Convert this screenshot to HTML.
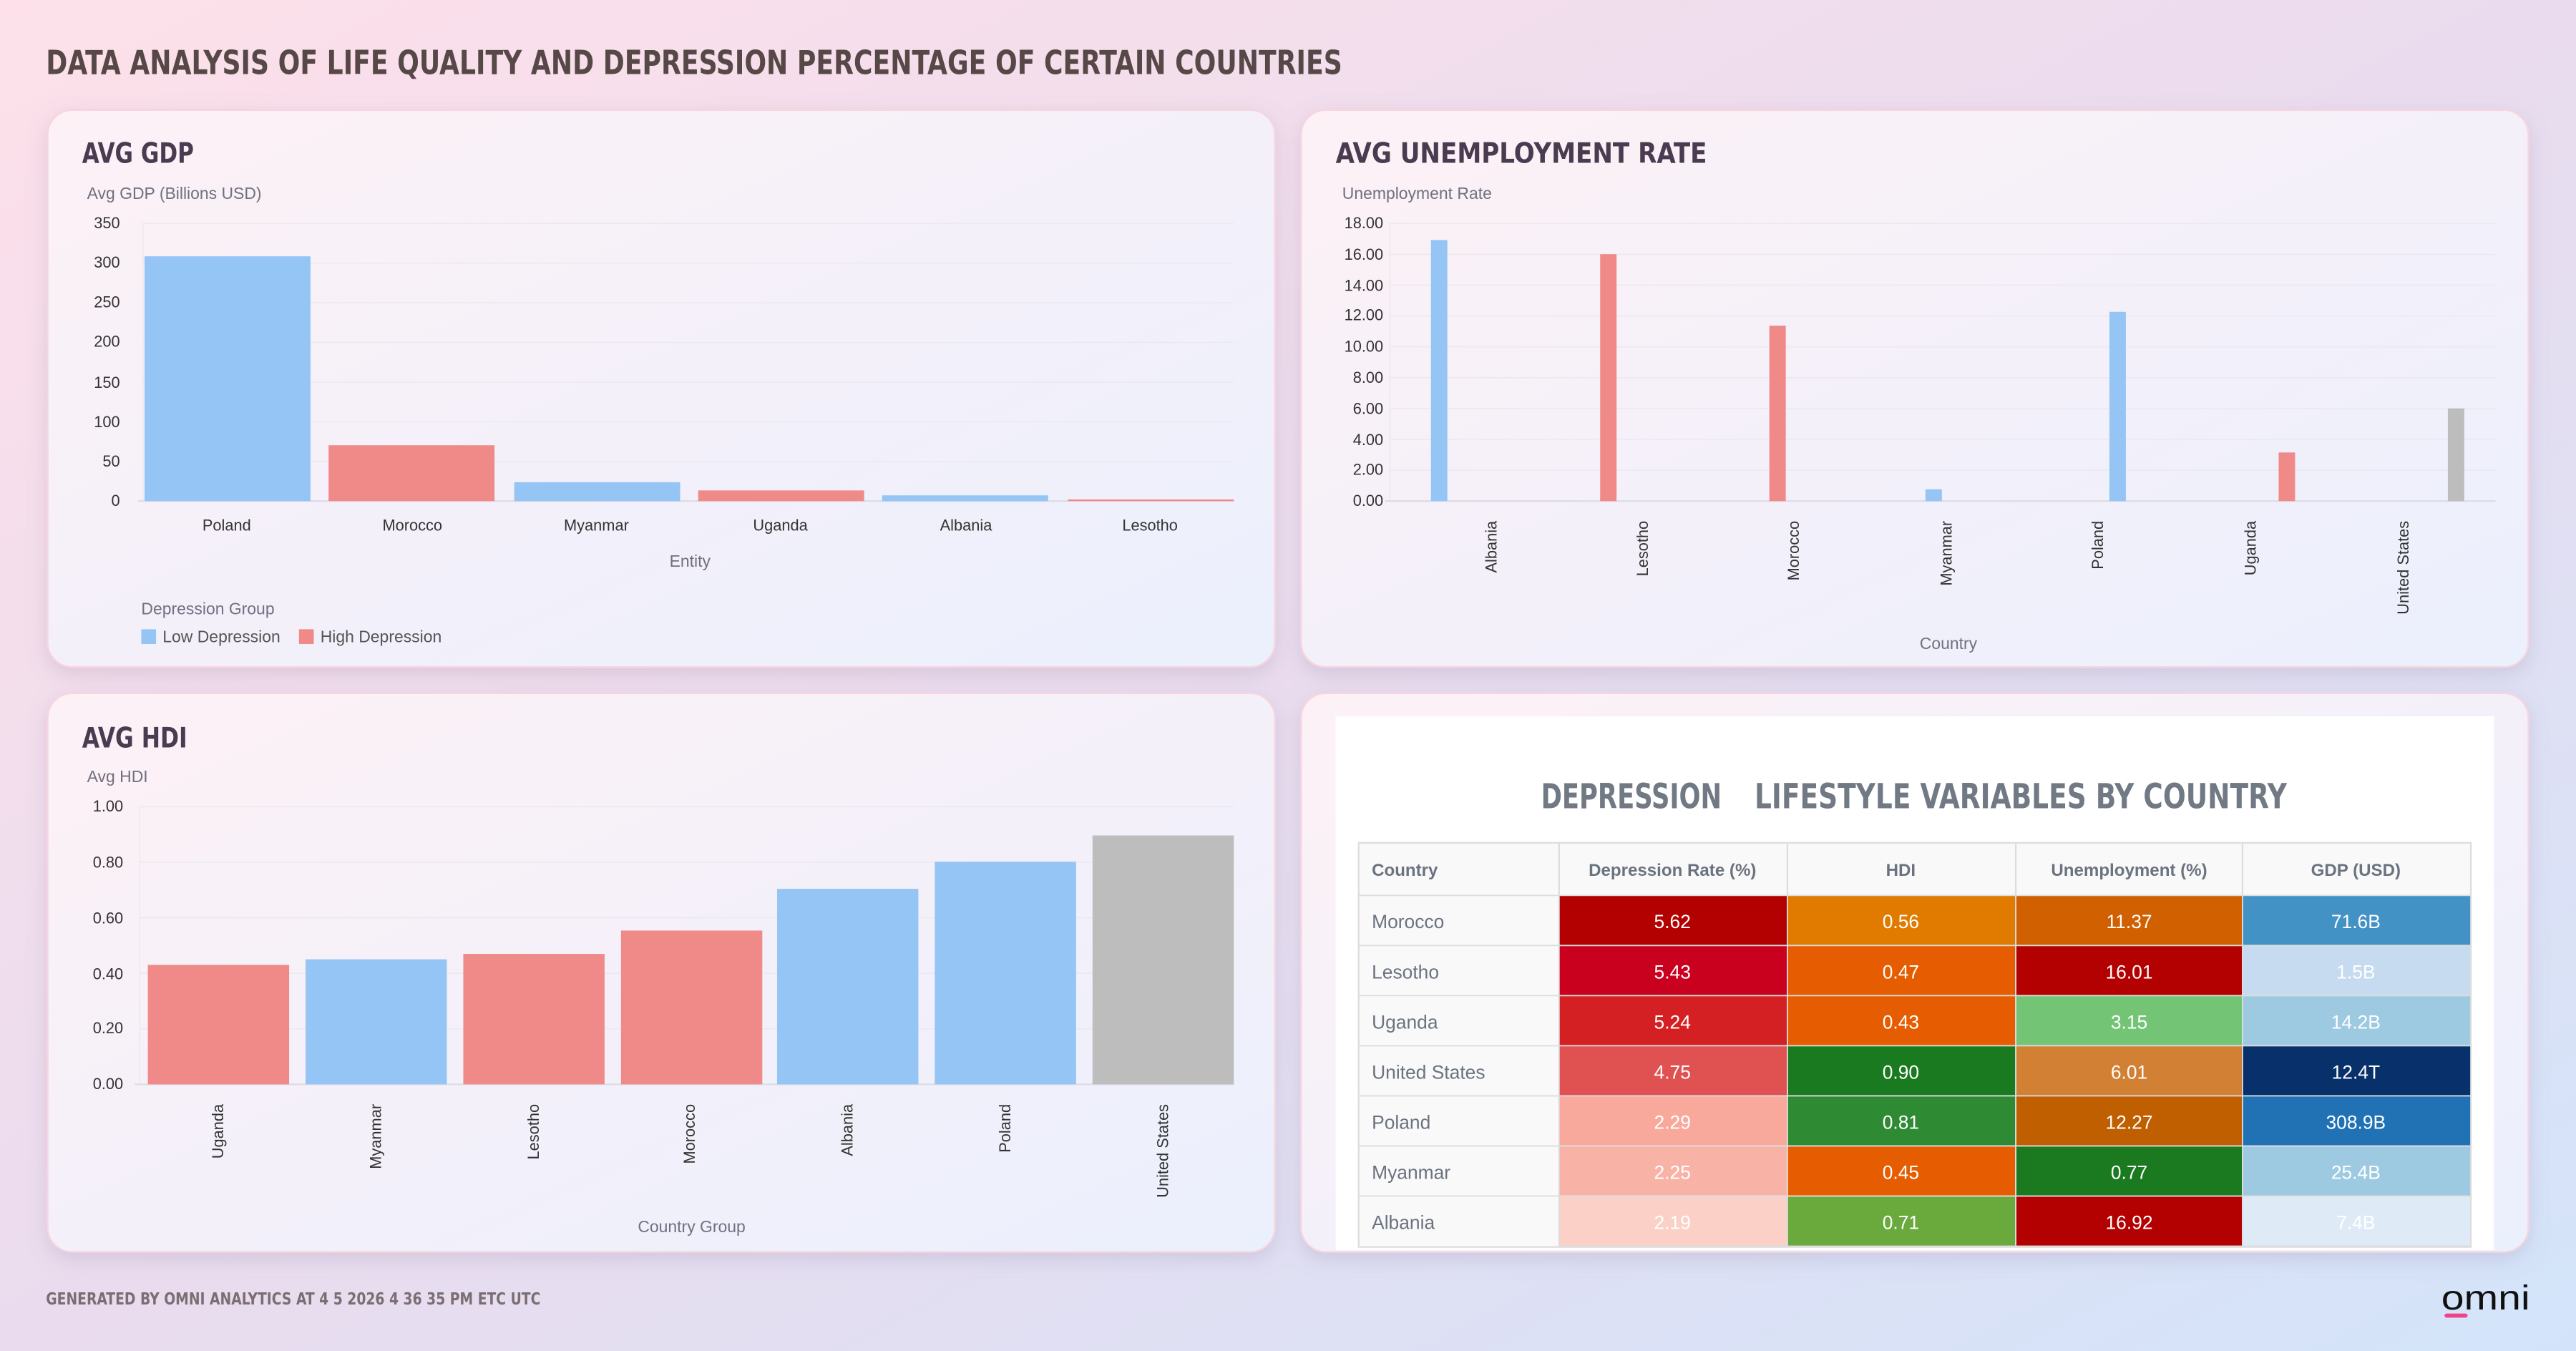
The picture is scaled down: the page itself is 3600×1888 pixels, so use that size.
<!DOCTYPE html>
<html><head><meta charset="utf-8"><style>
html,body{margin:0;padding:0;width:3600px;height:1888px;overflow:hidden;}
svg{display:block}
.t{font-family:"Liberation Sans",sans-serif;}
.h{font-family:"DejaVu Sans Condensed","Liberation Sans Narrow","Liberation Sans",sans-serif;font-weight:bold;}
</style></head><body>
<svg width="3600" height="1888" viewBox="0 0 1568 822.3" preserveAspectRatio="none" xmlns="http://www.w3.org/2000/svg">
<defs>
<linearGradient id="bg" x1="0" y1="0" x2="1" y2="1">
<stop offset="0" stop-color="#fde0ea"/><stop offset="0.5" stop-color="#eadcee"/><stop offset="1" stop-color="#d3e4fa"/>
</linearGradient>
<linearGradient id="pn" x1="0" y1="0" x2="1" y2="1">
<stop offset="0" stop-color="#fdf1f6"/><stop offset="1" stop-color="#ebf0fd"/>
</linearGradient>
<filter id="sh" x="-5%" y="-5%" width="110%" height="115%"><feDropShadow dx="0" dy="4" stdDeviation="6" flood-color="#9080a0" flood-opacity="0.25"/></filter>
</defs>
<rect width="1568" height="822.3" fill="url(#bg)"/>
<text class="h" x="28" y="45" font-size="20" fill="#574848" textLength="789" lengthAdjust="spacingAndGlyphs">DATA ANALYSIS OF LIFE QUALITY AND DEPRESSION PERCENTAGE OF CERTAIN COUNTRIES</text>

<g filter="url(#sh)">
<rect x="29" y="67" width="747" height="339" rx="15" fill="url(#pn)" stroke="#f7d5df" stroke-width="1"/>
<rect x="792" y="67" width="747" height="339" rx="15" fill="url(#pn)" stroke="#f7d5df" stroke-width="1"/>
<rect x="29" y="422" width="747" height="340" rx="15" fill="url(#pn)" stroke="#f7d5df" stroke-width="1"/>
<rect x="792" y="422" width="747" height="340" rx="15" fill="url(#pn)" stroke="#f7d5df" stroke-width="1"/>
</g>

<!-- Panel 1 GDP -->
<text class="h" x="50" y="99" font-size="17" fill="#4a3b50" textLength="68" lengthAdjust="spacingAndGlyphs">AVG GDP</text>
<text class="t" x="53" y="121" font-size="10" fill="#707080">Avg GDP (Billions USD)</text>
<g stroke="#ebe8ef" stroke-width="0.7">
<line x1="87" y1="136" x2="751" y2="136"/><line x1="87" y1="160.1" x2="751" y2="160.1"/><line x1="87" y1="184.3" x2="751" y2="184.3"/><line x1="87" y1="208.4" x2="751" y2="208.4"/><line x1="87" y1="232.6" x2="751" y2="232.6"/><line x1="87" y1="256.7" x2="751" y2="256.7"/><line x1="87" y1="280.9" x2="751" y2="280.9"/>
<line x1="87" y1="136" x2="87" y2="305"/>
</g>
<line x1="84" y1="305" x2="751" y2="305" stroke="#dcdce6" stroke-width="1"/>
<g class="t" font-size="9.5" fill="#333" text-anchor="end">
<text x="73" y="139">350</text><text x="73" y="163">300</text><text x="73" y="187">250</text><text x="73" y="211">200</text><text x="73" y="236">150</text><text x="73" y="260">100</text><text x="73" y="284">50</text><text x="73" y="308">0</text>
</g>
<rect x="88" y="156" width="101" height="149" fill="#94c5f5"/>
<rect x="200" y="271" width="101" height="34" fill="#f08a89"/>
<rect x="313" y="293.5" width="101" height="11.5" fill="#94c5f5"/>
<rect x="425" y="298.5" width="101" height="6.5" fill="#f08a89"/>
<rect x="537" y="301.5" width="101" height="3.5" fill="#94c5f5"/>
<rect x="650" y="304" width="101" height="1" fill="#f08a89"/>
<g class="t" font-size="9.5" fill="#333" text-anchor="middle">
<text x="138" y="323">Poland</text><text x="251" y="323">Morocco</text><text x="363" y="323">Myanmar</text><text x="475" y="323">Uganda</text><text x="588" y="323">Albania</text><text x="700" y="323">Lesotho</text>
</g>
<text class="t" x="420" y="345" font-size="10" fill="#707080" text-anchor="middle">Entity</text>
<text class="t" x="86" y="374" font-size="10" fill="#707080">Depression Group</text>
<rect x="86" y="383" width="9" height="9" fill="#94c5f5"/>
<text class="t" x="99" y="391" font-size="10" fill="#555">Low Depression</text>
<rect x="182" y="383" width="9" height="9" fill="#f08a89"/>
<text class="t" x="195" y="391" font-size="10" fill="#555">High Depression</text>

<!-- Panel 2 Unemployment -->
<text class="h" x="813" y="99" font-size="17" fill="#4a3b50" textLength="226" lengthAdjust="spacingAndGlyphs">AVG UNEMPLOYMENT RATE</text>
<text class="t" x="817" y="121" font-size="10" fill="#707080">Unemployment Rate</text>
<g stroke="#ebe8ef" stroke-width="0.7">
<line x1="846" y1="136" x2="1519" y2="136"/><line x1="846" y1="154.8" x2="1519" y2="154.8"/><line x1="846" y1="173.6" x2="1519" y2="173.6"/><line x1="846" y1="192.3" x2="1519" y2="192.3"/><line x1="846" y1="211.1" x2="1519" y2="211.1"/><line x1="846" y1="229.9" x2="1519" y2="229.9"/><line x1="846" y1="248.7" x2="1519" y2="248.7"/><line x1="846" y1="267.4" x2="1519" y2="267.4"/><line x1="846" y1="286.2" x2="1519" y2="286.2"/>
<line x1="846" y1="136" x2="846" y2="305"/>
</g>
<line x1="843" y1="305" x2="1519" y2="305" stroke="#dcdce6" stroke-width="1"/>
<g class="t" font-size="9.5" fill="#333" text-anchor="end">
<text x="842" y="139">18.00</text><text x="842" y="158">16.00</text><text x="842" y="177">14.00</text><text x="842" y="195">12.00</text><text x="842" y="214">10.00</text><text x="842" y="233">8.00</text><text x="842" y="252">6.00</text><text x="842" y="271">4.00</text><text x="842" y="289">2.00</text><text x="842" y="308">0.00</text>
</g>
<rect x="871" y="146.1" width="10" height="158.9" fill="#94c5f5"/>
<rect x="974" y="154.7" width="10" height="150.3" fill="#f08a89"/>
<rect x="1077" y="198.2" width="10" height="106.8" fill="#f08a89"/>
<rect x="1172" y="297.8" width="10" height="7.2" fill="#94c5f5"/>
<rect x="1284" y="189.8" width="10" height="115.2" fill="#94c5f5"/>
<rect x="1387" y="275.4" width="10" height="29.6" fill="#f08a89"/>
<rect x="1490" y="248.6" width="10" height="56.4" fill="#bdbdbd"/>
<g class="t" font-size="9.5" fill="#333" text-anchor="end">
<text transform="translate(911,317) rotate(-90)">Albania</text>
<text transform="translate(1003,317) rotate(-90)">Lesotho</text>
<text transform="translate(1095,317) rotate(-90)">Morocco</text>
<text transform="translate(1188,317) rotate(-90)">Myanmar</text>
<text transform="translate(1280,317) rotate(-90)">Poland</text>
<text transform="translate(1373,317) rotate(-90)">Uganda</text>
<text transform="translate(1466,317) rotate(-90)">United States</text>
</g>
<text class="t" x="1186" y="395" font-size="10" fill="#707080" text-anchor="middle">Country</text>

<!-- Panel 3 HDI -->
<text class="h" x="50" y="455" font-size="17" fill="#4a3b50" textLength="64" lengthAdjust="spacingAndGlyphs">AVG HDI</text>
<text class="t" x="53" y="476" font-size="10" fill="#707080">Avg HDI</text>
<g stroke="#ebe8ef" stroke-width="0.7">
<line x1="85" y1="491" x2="751" y2="491"/><line x1="85" y1="524.8" x2="751" y2="524.8"/><line x1="85" y1="558.6" x2="751" y2="558.6"/><line x1="85" y1="592.4" x2="751" y2="592.4"/><line x1="85" y1="626.2" x2="751" y2="626.2"/>
<line x1="85" y1="491" x2="85" y2="660"/>
</g>
<line x1="82" y1="660" x2="751" y2="660" stroke="#dcdce6" stroke-width="1"/>
<g class="t" font-size="9.5" fill="#333" text-anchor="end">
<text x="75" y="494">1.00</text><text x="75" y="528">0.80</text><text x="75" y="562">0.60</text><text x="75" y="596">0.40</text><text x="75" y="629">0.20</text><text x="75" y="663">0.00</text>
</g>
<rect x="90" y="587.3" width="86" height="72.7" fill="#f08a89"/>
<rect x="186" y="583.9" width="86" height="76.1" fill="#94c5f5"/>
<rect x="282" y="580.6" width="86" height="79.4" fill="#f08a89"/>
<rect x="378" y="566.4" width="86" height="93.6" fill="#f08a89"/>
<rect x="473" y="541" width="86" height="119" fill="#94c5f5"/>
<rect x="569" y="524.5" width="86" height="135.5" fill="#94c5f5"/>
<rect x="665" y="508.5" width="86" height="151.5" fill="#bdbdbd"/>
<g class="t" font-size="9.5" fill="#333" text-anchor="end">
<text transform="translate(136,672) rotate(-90)">Uganda</text>
<text transform="translate(232,672) rotate(-90)">Myanmar</text>
<text transform="translate(328,672) rotate(-90)">Lesotho</text>
<text transform="translate(423,672) rotate(-90)">Morocco</text>
<text transform="translate(519,672) rotate(-90)">Albania</text>
<text transform="translate(615,672) rotate(-90)">Poland</text>
<text transform="translate(711,672) rotate(-90)">United States</text>
</g>
<text class="t" x="421" y="750" font-size="10" fill="#707080" text-anchor="middle">Country Group</text>

<!-- Panel 4 table -->
<rect x="813" y="436" width="705" height="325" fill="#ffffff"/>
<text class="h" x="938" y="492" font-size="21" fill="#717984" textLength="110" lengthAdjust="spacingAndGlyphs">DEPRESSION</text>
<text class="h" x="1068" y="492" font-size="21" fill="#717984" textLength="324" lengthAdjust="spacingAndGlyphs">LIFESTYLE VARIABLES BY COUNTRY</text>
<rect x="827" y="513" width="677" height="246" fill="#f9f9f9" stroke="#dddddd" stroke-width="1"/>
<g class="t" font-size="10.5" font-weight="bold" fill="#6b7380">
<text x="835" y="533">Country</text>
<text x="1018" y="533" text-anchor="middle">Depression Rate (%)</text>
<text x="1157" y="533" text-anchor="middle">HDI</text>
<text x="1296" y="533" text-anchor="middle">Unemployment (%)</text>
<text x="1434" y="533" text-anchor="middle">GDP (USD)</text>
</g>
<g stroke="#dddddd" stroke-width="1">
<line x1="949" y1="513" x2="949" y2="545"/><line x1="1088" y1="513" x2="1088" y2="545"/><line x1="1227" y1="513" x2="1227" y2="545"/><line x1="1365" y1="513" x2="1365" y2="545"/>
</g>
<!-- rows -->
<g stroke="#dddddd" stroke-width="0.8">
<rect x="949" y="545" width="139" height="30.5" fill="#b30000"/><rect x="1088" y="545" width="139" height="30.5" fill="#e07b00"/><rect x="1227" y="545" width="138" height="30.5" fill="#d06000"/><rect x="1365" y="545" width="139" height="30.5" fill="#4292c6"/>
<rect x="949" y="575.5" width="139" height="30.5" fill="#c9001e"/><rect x="1088" y="575.5" width="139" height="30.5" fill="#e65c00"/><rect x="1227" y="575.5" width="138" height="30.5" fill="#b30000"/><rect x="1365" y="575.5" width="139" height="30.5" fill="#c6dbef"/>
<rect x="949" y="606" width="139" height="30.5" fill="#d42022"/><rect x="1088" y="606" width="139" height="30.5" fill="#e65c00"/><rect x="1227" y="606" width="138" height="30.5" fill="#74c476"/><rect x="1365" y="606" width="139" height="30.5" fill="#9ecae1"/>
<rect x="949" y="636.5" width="139" height="30.5" fill="#e05252"/><rect x="1088" y="636.5" width="139" height="30.5" fill="#1a7a1f"/><rect x="1227" y="636.5" width="138" height="30.5" fill="#d28033"/><rect x="1365" y="636.5" width="139" height="30.5" fill="#08306b"/>
<rect x="949" y="667" width="139" height="30.5" fill="#f9a99b"/><rect x="1088" y="667" width="139" height="30.5" fill="#2e8b34"/><rect x="1227" y="667" width="138" height="30.5" fill="#c05f00"/><rect x="1365" y="667" width="139" height="30.5" fill="#2171b5"/>
<rect x="949" y="697.5" width="139" height="30.5" fill="#f9b3a6"/><rect x="1088" y="697.5" width="139" height="30.5" fill="#e65c00"/><rect x="1227" y="697.5" width="138" height="30.5" fill="#1b7a20"/><rect x="1365" y="697.5" width="139" height="30.5" fill="#9ecae1"/>
<rect x="949" y="728" width="139" height="30.5" fill="#fbd0c6"/><rect x="1088" y="728" width="139" height="30.5" fill="#6aaa3c"/><rect x="1227" y="728" width="138" height="30.5" fill="#b30000"/><rect x="1365" y="728" width="139" height="30.5" fill="#deebf7"/>
<line x1="827" y1="545" x2="949" y2="545"/><line x1="827" y1="575.5" x2="949" y2="575.5"/><line x1="827" y1="606" x2="949" y2="606"/><line x1="827" y1="636.5" x2="949" y2="636.5"/><line x1="827" y1="667" x2="949" y2="667"/><line x1="827" y1="697.5" x2="949" y2="697.5"/><line x1="827" y1="728" x2="949" y2="728"/>
</g>
<g class="t" font-size="11.5" fill="#6b7380">
<text x="835" y="565">Morocco</text><text x="835" y="595.5">Lesotho</text><text x="835" y="626">Uganda</text><text x="835" y="656.5">United States</text><text x="835" y="687">Poland</text><text x="835" y="717.5">Myanmar</text><text x="835" y="748">Albania</text>
</g>
<g class="t" font-size="11.5" fill="#ffffff" text-anchor="middle">
<text x="1018" y="565">5.62</text><text x="1157" y="565">0.56</text><text x="1296" y="565">11.37</text><text x="1434" y="565">71.6B</text>
<text x="1018" y="595.5">5.43</text><text x="1157" y="595.5">0.47</text><text x="1296" y="595.5">16.01</text><text x="1434" y="595.5">1.5B</text>
<text x="1018" y="626">5.24</text><text x="1157" y="626">0.43</text><text x="1296" y="626">3.15</text><text x="1434" y="626">14.2B</text>
<text x="1018" y="656.5">4.75</text><text x="1157" y="656.5">0.90</text><text x="1296" y="656.5">6.01</text><text x="1434" y="656.5">12.4T</text>
<text x="1018" y="687">2.29</text><text x="1157" y="687">0.81</text><text x="1296" y="687">12.27</text><text x="1434" y="687">308.9B</text>
<text x="1018" y="717.5">2.25</text><text x="1157" y="717.5">0.45</text><text x="1296" y="717.5">0.77</text><text x="1434" y="717.5">25.4B</text>
<text x="1018" y="748">2.19</text><text x="1157" y="748">0.71</text><text x="1296" y="748">16.92</text><text x="1434" y="748">7.4B</text>
</g>

<!-- footer -->
<text class="h" x="28" y="794" font-size="10" fill="#7a6e72" textLength="301" lengthAdjust="spacingAndGlyphs">GENERATED BY OMNI ANALYTICS AT 4 5 2026  4 36 35 PM  ETC UTC</text>
<text class="t" x="1486" y="797" font-size="21" fill="#111" textLength="54" lengthAdjust="spacingAndGlyphs">omni</text>
<rect x="1488" y="799.5" width="14" height="2.5" rx="1.2" fill="#f0448a"/>
</svg>
</body></html>
